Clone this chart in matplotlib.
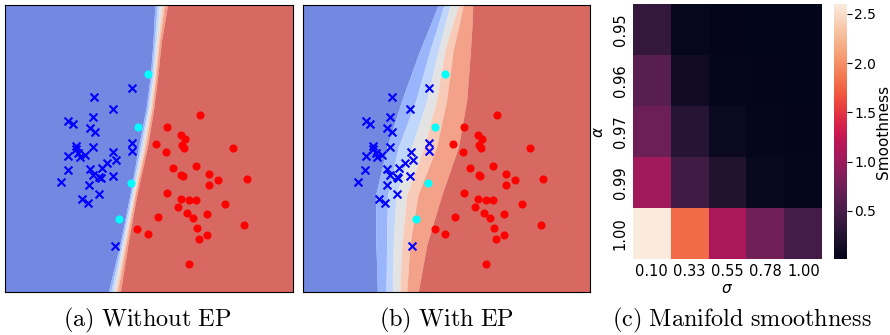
import numpy as np
import matplotlib.pyplot as plt
import seaborn as sns

# labelled points (same in both panels), plot units 0..10
blue_x = [4.39, 3.10, 3.73, 3.04, 2.20, 2.35, 2.95, 3.12, 4.39, 4.39, 2.46, 2.46, 3.04,
          3.76, 2.20, 2.54, 2.60, 2.77, 3.85, 3.55, 3.35, 2.95, 2.17, 3.04, 3.27, 3.32,
          3.73, 1.94, 2.92, 3.27, 2.66, 2.87, 3.82]
blue_y = [7.09, 6.80, 6.38, 6.11, 5.96, 5.84, 5.72, 5.57, 5.18, 4.92, 5.09, 4.97, 5.05,
          4.89, 4.74, 4.83, 4.72, 4.77, 4.60, 4.51, 4.33, 4.28, 4.25, 4.08, 4.02, 3.96,
          4.04, 3.84, 3.72, 3.41, 3.23, 3.12, 1.61]
red_x = [6.76, 5.61, 6.09, 6.24, 5.23, 6.13, 6.21, 5.57, 7.90, 6.62, 5.84, 6.16, 7.09,
         7.40, 8.38, 7.09, 5.61, 6.09, 6.39, 6.62, 7.63, 6.01, 6.32, 6.51, 6.99, 5.31,
         4.59, 4.95, 6.65, 8.30, 6.99, 6.74, 6.37, 6.12]
red_y = [6.15, 5.76, 5.46, 5.32, 5.14, 5.12, 5.01, 4.89, 5.01, 4.40, 4.31, 4.06, 4.13,
         3.90, 3.93, 3.72, 3.46, 3.23, 3.21, 3.21, 3.06, 2.98, 2.75, 2.57, 2.71, 2.62,
         2.21, 2.02, 2.22, 2.34, 1.98, 1.85, 1.00, 4.08]
cyan_x = [4.97, 4.62, 4.36, 3.94]
cyan_y = [7.58, 5.76, 3.81, 2.55]

# contour band edges: one row per height
band_y_a = [0.0, 1.65, 3.38, 5.05, 6.40, 7.55, 8.70, 10.0]
band_edges_a = [[3.58, 3.66, 3.74, 3.83, 3.90, 4.00],
                [3.98, 4.03, 4.08, 4.14, 4.19, 4.26],
                [4.33, 4.37, 4.42, 4.47, 4.51, 4.57],
                [4.63, 4.69, 4.75, 4.81, 4.87, 4.94],
                [4.89, 4.94, 4.99, 5.05, 5.10, 5.16],
                [5.04, 5.09, 5.14, 5.19, 5.24, 5.30],
                [5.13, 5.18, 5.24, 5.30, 5.35, 5.42],
                [5.20, 5.28, 5.36, 5.45, 5.53, 5.64]]
band_y_b = [0.0, 1.65, 3.38, 5.05, 6.68, 8.42, 9.20, 10.0]
band_edges_b = [[2.60, 2.90, 3.13, 3.38, 3.62, 4.02],
                [2.55, 2.92, 3.15, 3.45, 3.73, 4.32],
                [2.54, 2.95, 3.25, 3.62, 4.01, 4.84],
                [2.93, 3.33, 3.79, 4.22, 4.66, 5.42],
                [3.45, 3.94, 4.32, 4.66, 5.01, 5.71],
                [4.08, 4.43, 4.72, 4.95, 5.24, 5.84],
                [4.40, 4.68, 4.93, 5.18, 5.42, 5.89],
                [4.72, 4.92, 5.13, 5.42, 5.59, 5.92]]

# heatmap
alpha_labels = ['0.95', '0.96', '0.97', '0.99', '1.00']
sigma_labels = ['0.10', '0.33', '0.55', '0.78', '1.00']
smooth = [[0.36, 0.05, 0.03, 0.02, 0.01],
          [0.60, 0.12, 0.04, 0.03, 0.02],
          [0.72, 0.27, 0.08, 0.04, 0.03],
          [1.05, 0.45, 0.24, 0.07, 0.04],
          [2.60, 1.80, 1.10, 0.75, 0.48]]

captions = ['(a) Without EP', '(b) With EP', '(c) Manifold smoothness']


def draw_panel(ax, band_y, band_edges):
    edges = np.array(band_edges)
    n_bands = edges.shape[1] + 1
    left = np.full(len(band_y), 0.0)
    right = np.full(len(band_y), 10.0)
    bounds = [left] + [edges[:, i] for i in range(edges.shape[1])] + [right]
    for i in range(n_bands):
        ax.fill_betweenx(band_y, bounds[i], bounds[i + 1],
                         color=plt.cm.coolwarm((i + 0.5) / n_bands), alpha=0.8, lw=0)
    ax.scatter(blue_x, blue_y, marker='x', c='blue', s=32, linewidths=1.5, zorder=3)
    ax.scatter(red_x, red_y, marker='o', c='red', s=34, linewidths=0, zorder=3)
    ax.scatter(cyan_x, cyan_y, marker='o', c='cyan', s=34, linewidths=0, zorder=3)
    ax.set_xlim(0, 10)
    ax.set_ylim(0, 10)
    ax.set_xticks([])
    ax.set_yticks([])


fig = plt.figure(figsize=(8.9, 3.35), dpi=100)
ax_a = fig.add_axes([0.0056, 0.1275, 0.324, 0.8585])
ax_b = fig.add_axes([0.3401, 0.1275, 0.3228, 0.8585])
ax_c = fig.add_axes([0.7109, 0.2260, 0.2130, 0.7620])
cax = fig.add_axes([0.9374, 0.2260, 0.0139, 0.7620])

draw_panel(ax_a, band_y_a, band_edges_a)
draw_panel(ax_b, band_y_b, band_edges_b)

sns.heatmap(np.array(smooth), ax=ax_c, cbar_ax=cax, cmap='rocket', vmin=0.01, vmax=2.6,
            xticklabels=sigma_labels, yticklabels=alpha_labels)
ax_c.tick_params(length=0, labelsize=10.5)
ax_c.set_yticklabels(alpha_labels, rotation=90, va='center')
ax_c.set_xlabel(r'$\sigma$', fontsize=11, labelpad=1)
ax_c.set_ylabel(r'$\alpha$', fontsize=11, labelpad=5)
cax.set_yticks([0.5, 1.0, 1.5, 2.0, 2.5])
cax.tick_params(labelsize=10, length=3.5, pad=2)
cax.set_ylabel('Smoothness', fontsize=11, labelpad=0)

for xc, txt in zip([147, 446, 742], captions):
    fig.text(xc / 890, 1 - 320 / 335, r'$\mathrm{' + txt.replace(' ', r'\ ') + '}$',
             ha='center', va='center', fontsize=17.5, math_fontfamily='cm')

fig.savefig('out.png', dpi=100)
